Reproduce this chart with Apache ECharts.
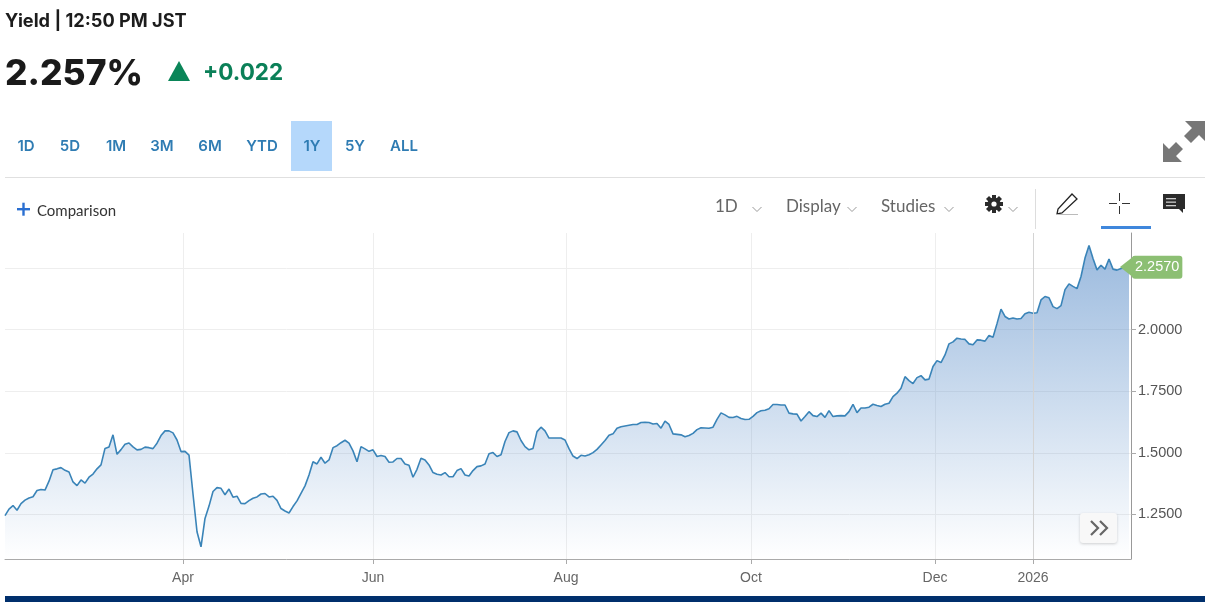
<!DOCTYPE html>
<html><head><meta charset="utf-8">
<style>html,body{margin:0;padding:0;background:#fff}#c{width:1216px;height:604px}</style>
<script src="https://cdn.jsdelivr.net/npm/echarts@6/dist/echarts.min.js"></script>
</head><body><div id="c"></div>
<script>
const yields = [
1.245,1.272,1.286,1.267,1.294,1.308,1.317,1.322,1.347,1.351,1.349,1.385,1.431,1.435,1.440,1.429,1.422,1.382,1.367,1.390,
1.377,1.401,1.414,1.435,1.451,1.518,1.524,1.573,1.494,1.513,1.535,1.540,1.524,1.512,1.514,1.523,1.521,1.517,1.539,1.570,
1.589,1.589,1.581,1.552,1.505,1.506,1.491,1.333,1.180,1.119,1.234,1.284,1.343,1.359,1.356,1.330,1.353,
1.320,1.324,1.295,1.294,1.306,1.316,1.321,1.333,1.335,1.321,1.324,1.307,1.274,1.264,1.256,1.282,1.305,1.336,1.366,1.410,
1.464,1.455,1.482,1.458,1.471,1.521,1.529,1.541,1.551,1.539,1.508,1.464,1.525,1.516,1.506,1.512,1.485,1.489,1.485,1.462,
1.463,1.477,1.477,1.455,1.450,1.401,1.433,1.478,1.471,1.451,1.420,1.413,1.410,1.420,1.403,1.403,1.428,
1.436,1.410,1.406,1.428,1.444,1.447,1.455,1.496,1.501,1.485,1.492,1.546,1.582,1.589,1.585,1.550,1.525,1.512,1.518,1.586,
1.604,1.589,1.560,1.560,1.560,1.560,1.552,1.517,1.487,1.477,1.490,1.487,1.492,1.501,1.514,1.532,1.550,1.571,1.577,1.600,
1.606,1.609,1.612,1.615,1.615,1.623,1.624,1.623,1.617,1.619,1.600,1.629,1.615,1.577,1.575,1.573,1.565,
1.570,1.579,1.594,1.602,1.601,1.600,1.604,1.636,1.662,1.654,1.644,1.643,1.648,1.639,1.635,1.636,1.648,1.663,1.671,1.673,
1.679,1.696,1.696,1.694,1.694,1.661,1.658,1.657,1.629,1.647,1.667,1.651,1.647,1.661,1.644,1.671,1.647,1.650,1.651,1.650,
1.667,1.697,1.663,1.682,1.682,1.685,1.697,1.692,1.688,1.697,1.701,1.728,1.742,1.762,1.809,1.793,
1.781,1.805,1.813,1.796,1.799,1.850,1.874,1.866,1.897,1.942,1.950,1.965,1.962,1.960,1.942,1.938,1.958,1.957,1.953,1.976,
1.969,2.024,2.083,2.053,2.043,2.047,2.043,2.045,2.064,2.070,2.066,2.068,2.120,2.134,2.129,2.093,2.085,2.097,2.162,2.185,
2.175,2.166,2.215,2.290,2.341,2.288,2.242,2.261,2.245,2.286,2.245,2.241,2.248,2.250,2.257
];
const monthLabels = ['Apr','Jun','Aug','Oct','Dec','2026'];
const monthSessions = [44.5,92,140.25,186.5,232.5,257];
const yieldTicks = [1.25,1.5,1.75,2,2.25];
const rangeTabs = ['1D','5D','1M','3M','6M','YTD','1Y','5Y','ALL'];
const lastYield = 2.257, change = '+0.022';

const HEAD = 'Inter, "Liberation Sans", sans-serif';
const AX = '"Liberation Sans", Arial, sans-serif';
const UI = 'Lato, "Liberation Sans", sans-serif';
const txt = (x,y,text,font,fill,extra) => ({type:'text',x,y,silent:true,style:Object.assign({text,font,fill,textVerticalAlign:'middle'},extra||{})});
const chev = (x,y,c) => ({type:'polyline',shape:{points:[[x-4.5,y-2],[x,y+2.5],[x+4.5,y-2]]},style:{stroke:c||'#9a9a9a',lineWidth:1,fill:null}});
echarts.graphic.registerShape('bigArrow', echarts.graphic.extendPath('M22 0L42 0L42 20L36 14L28 22L21 15L29 7ZM0 41L0 22L6 28L13 21L20 28L13 35L19 41Z', {}));
echarts.graphic.registerShape('pencil', echarts.graphic.extendPath('M16 2L21 7L6 21L1 22L2 17Z', {}));
echarts.graphic.registerShape('bubble', echarts.graphic.extendPath('M0 0L22 0L22 15L20 15L20 19L16 15L0 15Z', {}));

const tabX = [26,70,116,162,210,262,312,355,404];
const gearTeeth = [];
for (let i=0;i<8;i++){ const a=i*Math.PI/4; gearTeeth.push({type:'rect',x:994,y:204,rotation:a,shape:{x:-2,y:-9,width:4,height:18},style:{fill:'#2b2b2b'}}); }

const graphics = [
  txt(5,21.5,'Yield | 12:50 PM JST','700 18.2px '+HEAD,'#1c1c1c'),
  txt(5,74,lastYield.toFixed(3)+'%','800 35.4px '+HEAD,'#1a1a1a'),
  {type:'polygon',shape:{points:[[179,61],[168,81],[190,81]]},style:{fill:'#0a8558'}},
  txt(203,73,change,'700 22.5px '+HEAD,'#0b8058'),
  {type:'rect',shape:{x:291,y:121,width:41,height:50},style:{fill:'#b5d8fb'}},
  ...rangeTabs.map((t,i)=>txt(tabX[i],146,t,'600 15px '+HEAD,'#2f7cb3',{textAlign:'center'})),
  {type:'bigArrow',x:1163,y:121,style:{fill:'#777'}},
  {type:'line',shape:{x1:5,y1:177.5,x2:1205,y2:177.5},style:{stroke:'#e0e0e0',lineWidth:1}},
  {type:'rect',shape:{x:17,y:208,width:13,height:2.4},style:{fill:'#2a6fd1'}},
  {type:'rect',shape:{x:22.3,y:202.7,width:2.4,height:13},style:{fill:'#2a6fd1'}},
  txt(37,211,'Comparison','15px '+UI,'#333'),
  txt(715,206.5,'1D','17px '+UI,'#666'), chev(757,209),
  txt(786,206.5,'Display','17px '+UI,'#666'), chev(852,209),
  txt(881,206.5,'Studies','17px '+UI,'#666'), chev(949,209),
  ...gearTeeth,
  {type:'circle',shape:{cx:994,cy:204,r:6.5},style:{fill:'#2b2b2b'}},
  {type:'circle',shape:{cx:994,cy:204,r:2.6},style:{fill:'#fff'}},
  chev(1013,209),
  {type:'line',shape:{x1:1035.5,y1:189,x2:1035.5,y2:229},style:{stroke:'#ddd',lineWidth:1}},
  {type:'pencil',x:1056,y:192,style:{fill:'#fff',stroke:'#222',lineWidth:1.3}},
  {type:'line',shape:{x1:1056,y1:214.5,x2:1078,y2:214.5},style:{stroke:'#bbb',lineWidth:1}},
  {type:'line',shape:{x1:1109,y1:203.5,x2:1117,y2:203.5},style:{stroke:'#333',lineWidth:1}},
  {type:'line',shape:{x1:1122,y1:203.5,x2:1130,y2:203.5},style:{stroke:'#333',lineWidth:1}},
  {type:'line',shape:{x1:1119.5,y1:193,x2:1119.5,y2:201},style:{stroke:'#333',lineWidth:1}},
  {type:'line',shape:{x1:1119.5,y1:206,x2:1119.5,y2:214},style:{stroke:'#333',lineWidth:1}},
  {type:'rect',shape:{x:1101,y:226,width:50,height:3},style:{fill:'#3f87dc'}},
  {type:'bubble',x:1163,y:194,style:{fill:'#2b2b2b'}},
  {type:'rect',shape:{x:1166,y:198,width:10,height:1.3},style:{fill:'#ccc'}},
  {type:'rect',shape:{x:1166,y:201.5,width:10,height:1.3},style:{fill:'#ccc'}},
  {type:'rect',shape:{x:1166,y:205,width:10,height:1.3},style:{fill:'#ccc'}},
  {type:'rect',z:20,shape:{x:1080,y:513,width:37,height:30,r:3},style:{fill:'#f8f8f8',shadowBlur:3,shadowColor:'rgba(0,0,0,0.18)',shadowOffsetY:1}},
  {type:'polyline',z:21,shape:{points:[[1091,521],[1098,528],[1091,535]]},style:{stroke:'#666',lineWidth:2.2,fill:null}},
  {type:'polyline',z:21,shape:{points:[[1100,521],[1107,528],[1100,535]]},style:{stroke:'#666',lineWidth:2.2,fill:null}},
  {type:'polygon',z:20,shape:{points:[[1120,267],[1134,256],[1134,278]]},style:{fill:'#8cbf73'}},
  {type:'rect',shape:{x:5,y:596,width:1200,height:6},style:{fill:'#002f6c'}}
];

const chart = echarts.init(document.getElementById('c'),null,{renderer:'canvas'});
chart.setOption({
  animation:false,
  backgroundColor:'#fff',
  grid:{left:5,right:85,top:233,bottom:45,containLabel:false},
  xAxis:{type:'value',min:0,max:281.5,
    axisLine:{show:true,onZero:false,lineStyle:{color:'#aaa',width:1}},
    axisTick:{show:true,length:5,customValues:monthSessions,lineStyle:{color:'#aaa'}},
    axisLabel:{customValues:monthSessions,margin:12,color:'#666',fontFamily:AX,fontSize:14,
      formatter:v=>monthLabels[monthSessions.indexOf(v)]||''},
    splitLine:{show:true,lineStyle:{color:'#eeeeee',width:1}}},
  yAxis:{type:'value',position:'right',min:1.0694,max:2.3916,
    axisLine:{show:true,onZero:false,lineStyle:{color:'#999',width:1}},
    axisTick:{show:true,length:5,customValues:yieldTicks,lineStyle:{color:'#aaa'}},
    axisLabel:{customValues:yieldTicks,margin:7,color:'#555',fontFamily:AX,fontSize:14.5,padding:[2,0,0,0],
      formatter:v=>v===2.25?'':v.toFixed(4)},
    splitLine:{show:true,lineStyle:{color:'#eeeeee',width:1}}},
  graphic:graphics,
  series:[{type:'line',data:yields.map((v,i)=>[i,v]),showSymbol:false,symbol:'none',clip:false,
    lineStyle:{color:'#3a84b8',width:1.6},
    areaStyle:{origin:'start',opacity:1,color:new echarts.graphic.LinearGradient(0,0,0,1,[
      {offset:0,color:'rgba(88,140,200,0.6)'},{offset:1,color:'rgba(88,140,200,0)'}])},
    endLabel:{show:true,formatter:p=>p.value[1].toFixed(4),color:'#fff',fontFamily:AX,fontSize:14.5,
      backgroundColor:'#8cbf73',borderRadius:3,padding:[4,3,4,3],distance:3,offset:[0,1]},
    markLine:{silent:true,symbol:'none',label:{show:false},lineStyle:{color:'#d4d4d4',width:1,type:'solid'},
      data:[{xAxis:monthSessions[5]}]}
  }]
});
</script></body></html>
